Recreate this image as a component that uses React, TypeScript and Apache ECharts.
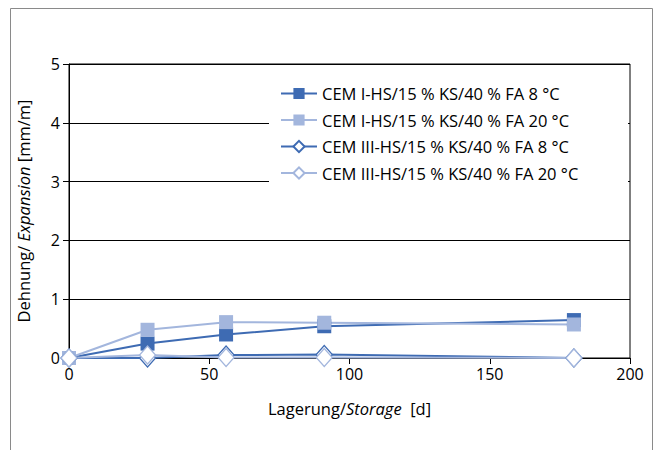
import React, { useEffect, useRef } from "react";
import * as echarts from "echarts";

// Storage time in days
const days = [0, 28, 56, 91, 180];

// Expansion in mm/m
const cem1_8 = [0, 0.245, 0.4, 0.54, 0.645];
const cem1_20 = [0, 0.48, 0.61, 0.6, 0.57];
const cem3_8 = [0, 0.0, 0.05, 0.06, 0.0];
const cem3_20 = [0, 0.05, 0.01, 0.01, 0.0];

const seriesNames = [
  "CEM I-HS/15 % KS/40 % FA 8 °C",
  "CEM I-HS/15 % KS/40 % FA 20 °C",
  "CEM III-HS/15 % KS/40 % FA 8 °C",
  "CEM III-HS/15 % KS/40 % FA 20 °C",
];

const DARK = "#3e6bb3";
const LIGHT = "#a3b6dd";
const FONT = "Open Sans";

const pairs = (ys: number[]) => days.map((d, i) => [d, ys[i]]);

export default function App() {
  const ref = useRef<HTMLDivElement>(null);

  useEffect(() => {
    if (!ref.current) return;
    const chart = echarts.init(ref.current, null, { renderer: "svg" });

    const squareSeries = (name: string, ys: number[], color: string) => ({
      name,
      type: "line",
      data: pairs(ys),
      symbol: "rect",
      symbolSize: 14,
      lineStyle: { color, width: 2 },
      itemStyle: { color },
    });
    const diamondSeries = (name: string, ys: number[], color: string) => ({
      name,
      type: "line",
      data: pairs(ys),
      symbol: "diamond",
      symbolSize: [16, 18],
      lineStyle: { color, width: 2 },
      itemStyle: { color: "#ffffff", borderColor: color, borderWidth: 1.3 },
    });

    const nameRich = {
      n: { fontFamily: FONT, fontSize: 16.5, color: "#000" },
      i: { fontFamily: FONT, fontSize: 16.5, fontStyle: "italic", color: "#000" },
    };

    chart.setOption({
      animation: false,
      backgroundColor: "#ffffff",
      textStyle: { fontFamily: FONT, color: "#000" },
      grid: {
        left: 69,
        right: 25,
        top: 64,
        bottom: 92,
        show: true,
        borderColor: "#000",
        borderWidth: 1,
      },
      graphic: [
        {
          type: "rect",
          shape: { x: 10.5, y: 8.5, width: 642, height: 460 },
          style: { fill: "none", stroke: "#8a8a8a", lineWidth: 1 },
          silent: true,
          z: 10,
        },
        {
          type: "rect",
          shape: { x: 269, y: 80, width: 359, height: 110 },
          style: { fill: "#ffffff" },
          silent: true,
          z: 3,
        },
      ],
      legend: {
        orient: "vertical",
        left: 275,
        top: 80,
        itemWidth: 36,
        itemHeight: 14,
        itemGap: 9.5,
        padding: [5, 5, 5, 5],
        textStyle: { fontFamily: FONT, fontSize: 16.5, color: "#000" },
        data: seriesNames,
        z: 5,
      },
      xAxis: {
        type: "value",
        min: 0,
        max: 200,
        interval: 50,
        name: "{n|Lagerung/}{i|Storage}{n|  [d]}",
        nameLocation: "middle",
        nameGap: 42,
        nameTextStyle: { rich: nameRich },
        axisLine: { show: true, lineStyle: { color: "#000", width: 1 } },
        axisTick: { show: true, inside: false, length: 6, lineStyle: { color: "#000" } },
        axisLabel: { fontFamily: FONT, fontSize: 16, color: "#000", margin: 8 },
        splitLine: { show: false },
      },
      yAxis: {
        type: "value",
        min: 0,
        max: 5,
        interval: 1,
        name: "{n|Dehnung/ }{i|Expansion}{n| [mm/m]}",
        nameLocation: "middle",
        nameRotate: 90,
        nameGap: 37,
        nameTextStyle: { rich: nameRich },
        axisLine: { show: true, onZero: false, lineStyle: { color: "#000", width: 1 } },
        axisTick: { show: true, inside: false, length: 6, lineStyle: { color: "#000" } },
        axisLabel: { fontFamily: FONT, fontSize: 16, color: "#000", margin: 9 },
        splitLine: { show: true, lineStyle: { color: "#000", width: 1 } },
      },
      series: [
        squareSeries(seriesNames[0], cem1_8, DARK),
        squareSeries(seriesNames[1], cem1_20, LIGHT),
        diamondSeries(seriesNames[2], cem3_8, DARK),
        diamondSeries(seriesNames[3], cem3_20, LIGHT),
      ],
    });

    return () => chart.dispose();
  }, []);

  return (
    <div
      ref={ref}
      style={{ position: "fixed", left: 0, top: 0, width: 655, height: 450 }}
    />
  );
}
